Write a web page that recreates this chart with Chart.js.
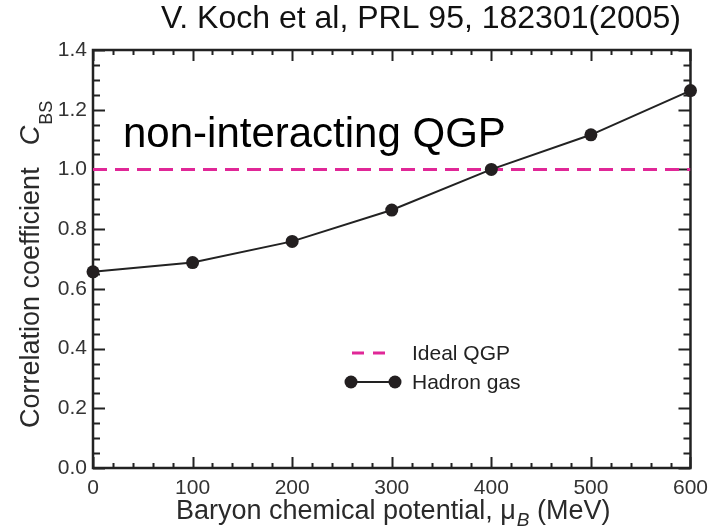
<!DOCTYPE html>
<html>
<head>
<meta charset="utf-8">
<title>Correlation coefficient C_BS</title>
<script src="https://cdn.jsdelivr.net/npm/chart.js@4.4.1/dist/chart.umd.min.js"></script>
<style>
  html, body { margin: 0; padding: 0; background: #fff; }
  canvas { display: block; }
</style>
</head>
<body>
<canvas id="cbsChart" width="716" height="530"></canvas>
<script>
// Baryon chemical potential (MeV)
const muB = [0, 100, 200, 300, 400, 500, 600];
// Hadron resonance gas result for C_BS
const hadronGas = [0.657, 0.688, 0.759, 0.864, 1.0, 1.116, 1.264];
// Ideal (non-interacting) QGP value
const qgpX = [0, 600];
const qgpY = [1.0, 1.0];
// Axis ticks
const xTicks = [0, 100, 200, 300, 400, 500, 600];
const yTicks = [0.0, 0.2, 0.4, 0.6, 0.8, 1.0, 1.2, 1.4];

const FONT = '"Liberation Sans", Arial, Helvetica, sans-serif';
const INK = '#222';
const MAGENTA = '#e02797';

// Frame with inward ticks on all four sides
const framePlugin = {
    id: 'frame',
    beforeDatasetsDraw(chart) {
        const { ctx, chartArea: a, scales: { x, y } } = chart;
        ctx.save();
        ctx.strokeStyle = INK;
        ctx.lineWidth = 2;
        ctx.beginPath();
        for (let v = 0; v <= 600; v += 20) {
            const px = Math.round(x.getPixelForValue(v)) + 0.5;
            const len = v % 100 === 0 ? 11 : 5;
            ctx.moveTo(px, a.bottom); ctx.lineTo(px, a.bottom - len);
            ctx.moveTo(px, a.top); ctx.lineTo(px, a.top + len);
        }
        for (let i = 0; i <= 28; i++) {
            const v = i * 0.05;
            const py = Math.round(y.getPixelForValue(v)) + 0.5;
            const len = i % 4 === 0 ? 12 : 7;
            ctx.moveTo(a.left, py); ctx.lineTo(a.left + len, py);
            ctx.moveTo(a.right, py); ctx.lineTo(a.right - len, py);
        }
        ctx.stroke();
        ctx.lineWidth = 2.5;
        ctx.strokeRect(a.left, a.top, a.right - a.left, a.bottom - a.top);
        ctx.restore();
    }
};

// Titles, annotation and legend
const textPlugin = {
    id: 'texts',
    afterDraw(chart) {
        const { ctx } = chart;
        const ds = chart.data.datasets;
        ctx.save();
        ctx.textBaseline = 'alphabetic';

        // reference line at top
        ctx.fillStyle = '#111';
        ctx.font = '32px ' + FONT;
        ctx.textAlign = 'right';
        ctx.fillText('V. Koch et al, PRL 95, 182301(2005)', 681, 28);

        // annotation in the plot
        ctx.textAlign = 'left';
        ctx.fillStyle = '#000';
        ctx.font = '42px ' + FONT;
        ctx.fillText('non-interacting QGP', 123, 147);

        // x axis title: Baryon chemical potential, mu_B (MeV)
        ctx.fillStyle = '#2a2a2a';
        let cx = 176;
        const by = 519;
        ctx.font = '27px ' + FONT;
        const xPart1 = 'Baryon chemical potential, \u03bc';
        ctx.fillText(xPart1, cx, by);
        cx += ctx.measureText(xPart1).width + 1;
        ctx.font = 'italic 19px ' + FONT;
        ctx.fillText('B', cx, by + 7);
        cx += ctx.measureText('B').width;
        ctx.font = '27px ' + FONT;
        ctx.fillText(' (MeV)', cx, by);

        // y axis title: Correlation coefficient  C_BS
        ctx.save();
        ctx.translate(39, 428);
        ctx.rotate(-Math.PI / 2);
        ctx.font = '27px ' + FONT;
        const yPart1 = 'Correlation coefficient';
        ctx.fillText(yPart1, 0, 0);
        let cy = ctx.measureText(yPart1).width + 22;
        ctx.font = 'italic 27px ' + FONT;
        ctx.fillText('C', cy, 0);
        cy += ctx.measureText('C').width + 1;
        ctx.font = '18px ' + FONT;
        ctx.fillText('BS', cy, 13);
        ctx.restore();

        // legend
        const qgp = ds[1], had = ds[0];
        ctx.font = '21px ' + FONT;
        ctx.fillStyle = INK;
        ctx.strokeStyle = qgp.borderColor;
        ctx.lineWidth = qgp.borderWidth;
        ctx.setLineDash([12, 9]);
        ctx.beginPath();
        ctx.moveTo(352, 353); ctx.lineTo(386, 353);
        ctx.stroke();
        ctx.setLineDash([]);
        ctx.fillText(qgp.label, 412, 360);

        ctx.strokeStyle = had.borderColor;
        ctx.lineWidth = had.borderWidth;
        ctx.beginPath();
        ctx.moveTo(351, 382); ctx.lineTo(395, 382);
        ctx.stroke();
        ctx.fillStyle = had.pointBackgroundColor;
        [351, 395].forEach(px => {
            ctx.beginPath();
            ctx.arc(px, 382, had.pointRadius, 0, Math.PI * 2);
            ctx.fill();
        });
        ctx.fillStyle = INK;
        ctx.fillText(had.label, 412, 389);
        ctx.restore();
    }
};

const ctx = document.getElementById('cbsChart').getContext('2d');

new Chart(ctx, {
    type: 'line',
    data: {
        datasets: [{
            label: 'Hadron gas',
            data: muB.map((m, i) => ({ x: m, y: hadronGas[i] })),
            borderColor: INK,
            borderWidth: 2,
            pointRadius: 6.5,
            pointBackgroundColor: '#231f20',
            pointBorderWidth: 0,
            tension: 0,
            clip: false
        }, {
            label: 'Ideal QGP',
            data: qgpX.map((m, i) => ({ x: m, y: qgpY[i] })),
            borderColor: MAGENTA,
            borderWidth: 3,
            borderDash: [14, 8],
            pointRadius: 0
        }]
    },
    options: {
        responsive: false,
        animation: false,
        layout: {
            padding: { top: 50, right: 24, left: 0, bottom: 0 }
        },
        plugins: {
            legend: { display: false },
            tooltip: { enabled: false }
        },
        scales: {
            x: {
                type: 'linear',
                min: 0,
                max: 600,
                grid: { display: false, drawTicks: false },
                border: { display: false },
                afterFit: s => { s.height = 62; },
                afterBuildTicks: s => { s.ticks = xTicks.map(v => ({ value: v })); },
                ticks: {
                    padding: 8,
                    color: '#333',
                    font: { family: FONT, size: 21 },
                    maxRotation: 0
                }
            },
            y: {
                min: 0,
                max: 1.4,
                grid: { display: false, drawTicks: false },
                border: { display: false },
                afterFit: s => { s.width = 93; },
                afterBuildTicks: s => { s.ticks = yTicks.map(v => ({ value: v })); },
                ticks: {
                    padding: 6,
                    color: '#333',
                    font: { family: FONT, size: 21 },
                    callback: v => v.toFixed(1)
                }
            }
        }
    },
    plugins: [framePlugin, textPlugin]
});
</script>
</body>
</html>
